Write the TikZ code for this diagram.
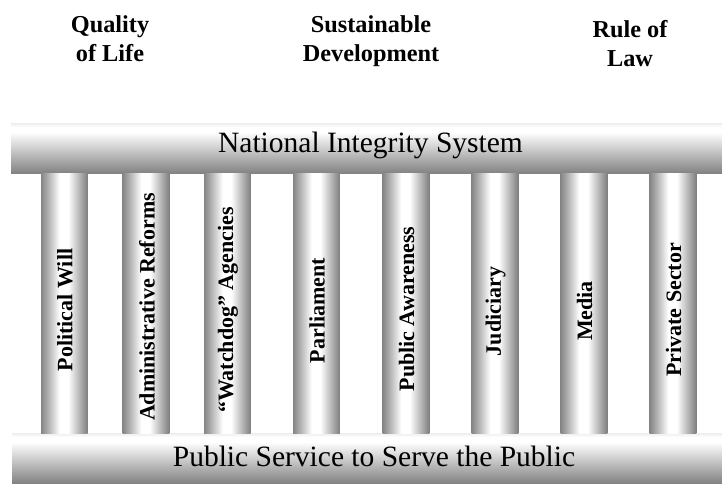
\documentclass[tikz,border=0pt]{standalone}
\usepackage{fontspec}
\setmainfont{Liberation Serif}
\definecolor{pedgeL}{HTML}{868686}
\definecolor{pmidL}{HTML}{B4B4B4}
\definecolor{pedgeR}{HTML}{7E7E7E}
\definecolor{bbot}{HTML}{838383}
\definecolor{btop}{HTML}{EDEDED}
\pgfdeclarehorizontalshading{pillarshade}{100bp}{color(0bp)=(pedgeL); color(25bp)=(pedgeL); color(33bp)=(pmidL); color(45bp)=(white); color(54bp)=(white); color(75bp)=(pedgeR); color(100bp)=(pedgeR)}
\pgfdeclareverticalshading{barshade}{100bp}{color(0bp)=(bbot); color(25bp)=(bbot); color(66bp)=(white); color(71bp)=(white); color(75bp)=(btop); color(100bp)=(btop)}
\tikzset{
  pillar/.style={shading=pillarshade, draw=none, inner sep=0pt, outer sep=0pt, minimum width=46.6pt, minimum height=260pt},
  bar/.style={shading=barshade, draw=none, inner sep=0pt, outer sep=0pt, minimum height=50pt},
  ptext/.style={font=\bfseries\fontsize{22}{26}\selectfont, inner sep=0pt, rotate=90},
  bartext/.style={font=\fontsize{29.5}{34}\selectfont, inner sep=0pt, anchor=base},
  toplabel/.style={font=\bfseries\fontsize{24.3}{29.5}\selectfont, inner sep=0pt, align=center}
}
\begin{document}
\begin{tikzpicture}[x=1pt,y=-1pt]
\useasboundingbox (0,0) rectangle (722,483);
% top labels
\node[toplabel] (qol) at (110,38.7) {Quality\\of Life};
\node[toplabel] (sd) at (371,41.4) {Sustainable\\Development};
\node[toplabel] (rol) at (630,43.8) {Rule of\\Law};
% bars
\node[bar, minimum width=711pt] (topbar) at (366.5,148) {};
\node[bar, minimum width=710pt] (botbar) at (367,458) {};
\node[bartext] (nis) at (370.5,152.7) {National Integrity System};
\node[bartext] (ps) at (374,466.7) {Public Service to Serve the Public};
% pillars
\node[pillar] (p1) at (64.4,303) {};
\node[pillar] (p2) at (146.0,303) {};
\node[pillar] (p3) at (227.4,303) {};
\node[pillar] (p4) at (316.5,303) {};
\node[pillar] (p5) at (406.0,303) {};
\node[pillar] (p6) at (495.0,303) {};
\node[pillar] (p7) at (584.0,303) {};
\node[pillar] (p8) at (673.0,303) {};
% pillar texts
\node[ptext] (t1) at (65,310) {Political Will};
\node[ptext] (t2) at (147,307) {Administrative Reforms};
\node[ptext] (t3) at (228,310) {“Watchdog” Agencies};
\node[ptext] (t4) at (317,310.5) {Parliament};
\node[ptext] (t5) at (406.5,309) {Public Awareness};
\node[ptext] (t6) at (495.5,311.5) {Judiciary};
\node[ptext] (t7) at (584.5,311) {Media};
\node[ptext] (t8) at (673.5,310) {Private Sector};
\end{tikzpicture}
\end{document}
